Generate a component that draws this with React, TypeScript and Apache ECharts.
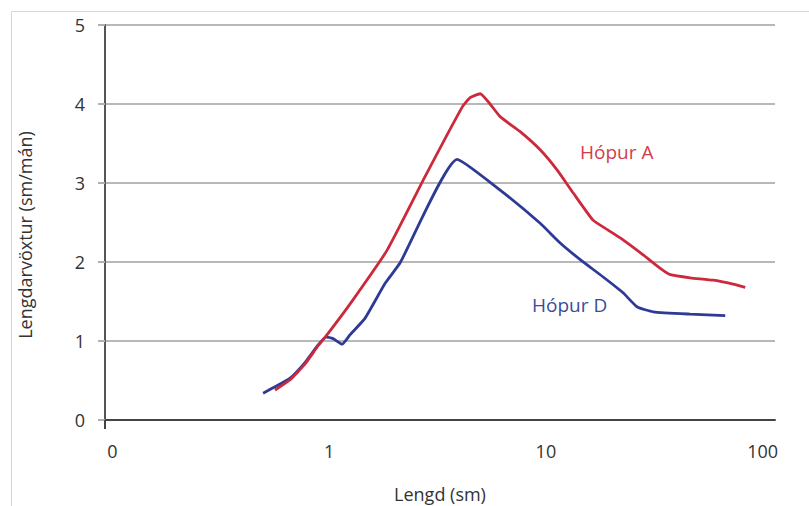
import React, { useEffect, useRef } from 'react';
import * as echarts from 'echarts';

// Axis setup
const xMin = 0.0925;
const xMax = 114;
const xTickValues = [0.1, 1, 10, 100];
const xTickLabels = ['0', '1', '10', '100'];
const yMin = 0;
const yMax = 5;

// Hópur A (red)
const hopurALength = [0.563, 0.661, 0.775, 0.89, 0.979, 1.25, 1.852, 2.77, 4.11, 4.47, 4.97, 6.15, 7.61, 9.41, 11.3, 13.4, 16.5, 19.2, 22.7, 28.1, 33.7, 37.5, 46.3, 59.2, 73.1, 83.1];
const hopurAGrowth = [0.38, 0.51, 0.71, 0.94, 1.08, 1.47, 2.15, 3.08, 3.96, 4.08, 4.13, 3.84, 3.65, 3.42, 3.16, 2.87, 2.53, 2.41, 2.28, 2.09, 1.92, 1.84, 1.8, 1.77, 1.72, 1.68];

// Hópur D (blue)
const hopurDLength = [0.496, 0.563, 0.661, 0.775, 0.89, 0.969, 1.043, 1.148, 1.25, 1.466, 1.813, 2.126, 3.897, 6.15, 9.41, 11.64, 14.4, 18.38, 22.7, 26.4, 31.3, 46.3, 67.2];
const hopurDGrowth = [0.34, 0.42, 0.53, 0.73, 0.95, 1.05, 1.03, 0.96, 1.08, 1.29, 1.73, 1.99, 3.3, 2.91, 2.49, 2.24, 2.03, 1.81, 1.61, 1.43, 1.37, 1.34, 1.32];

const seriesNames = ['Hópur A', 'Hópur D'];
const xAxisName = 'Lengd (sm)';
const yAxisName = 'Lengdarvöxtur (sm/mán)';

const FONT = '"Open Sans", "Noto Sans", sans-serif';
const RED = '#cc2a3c';
const BLUE = '#2e3a96';

const zip = (xs: number[], ys: number[]) => xs.map((x, i) => [x, ys[i]]);

export default function App() {
  const ref = useRef<HTMLDivElement>(null);
  useEffect(() => {
    if (!ref.current) return;
    const chart = echarts.init(ref.current, null, { renderer: 'svg' });
    chart.setOption({
      animation: false,
      backgroundColor: '#fff',
      textStyle: { fontFamily: FONT },
      grid: { left: 105, right: 34, top: 25, bottom: 86, containLabel: false, outerBoundsMode: 'none' },
      xAxis: {
        type: 'log',
        logBase: 10,
        min: xMin,
        max: xMax,
        name: xAxisName,
        nameLocation: 'middle',
        nameGap: 65,
        nameTextStyle: { fontSize: 18, color: '#333', fontFamily: FONT },
        axisLine: { show: true, lineStyle: { color: '#444', width: 2 } },
        axisTick: { show: true, customValues: [xMin], length: 9, lineStyle: { color: '#444', width: 2 } },
        axisLabel: {
          customValues: xTickValues,
          formatter: (v: number) => {
            const i = xTickValues.findIndex((t) => Math.abs(Math.log10(t) - Math.log10(v)) < 1e-6);
            return i >= 0 ? xTickLabels[i] : '';
          },
          fontSize: 18,
          color: '#333',
          margin: 22,
          fontFamily: FONT,
        },
        splitLine: { show: false },
        minorTick: { show: false },
      },
      yAxis: {
        type: 'value',
        min: yMin,
        max: yMax,
        interval: 1,
        axisLine: { show: true, lineStyle: { color: '#555', width: 2 } },
        axisTick: { show: true, length: 7, lineStyle: { color: '#b0b0b0', width: 2 } },
        axisLabel: { fontSize: 18, color: '#333', margin: 20, fontFamily: FONT, padding: [4, 0, 0, 0] },
        splitLine: { show: true, lineStyle: { color: '#b8b8b8', width: 2 } },
      },
      graphic: [
        {
          type: 'rect',
          shape: { x: 11.5, y: 11.5, width: 900, height: 600 },
          style: { fill: 'none', stroke: '#d6d6d6', lineWidth: 1 },
          z: -1,
          silent: true,
        },
        {
          type: 'text',
          x: 25,
          y: 235,
          rotation: Math.PI / 2,
          style: { text: yAxisName, fill: '#333', fontSize: 18, fontFamily: FONT, verticalAlign: 'middle', align: 'center' },
        },
        {
          type: 'text',
          x: 580,
          y: 152,
          style: { text: seriesNames[0], fill: '#d23c4c', fontSize: 19, fontFamily: FONT, verticalAlign: 'middle', align: 'left' },
        },
        {
          type: 'text',
          x: 532,
          y: 305,
          style: { text: seriesNames[1], fill: '#3a4c9c', fontSize: 19, fontFamily: FONT, verticalAlign: 'middle', align: 'left' },
        },
      ],
      series: [
        {
          name: seriesNames[1],
          type: 'line',
          data: zip(hopurDLength, hopurDGrowth),
          showSymbol: false,
          smooth: 0.15,
          lineStyle: { color: BLUE, width: 2.8 },
          itemStyle: { color: BLUE },
        },
        {
          name: seriesNames[0],
          type: 'line',
          data: zip(hopurALength, hopurAGrowth),
          showSymbol: false,
          smooth: 0.15,
          lineStyle: { color: RED, width: 2.8 },
          itemStyle: { color: RED },
        },
      ],
    });
    return () => chart.dispose();
  }, []);
  return <div ref={ref} style={{ width: 809, height: 506, position: 'absolute', left: 0, top: 0 }} />;
}
